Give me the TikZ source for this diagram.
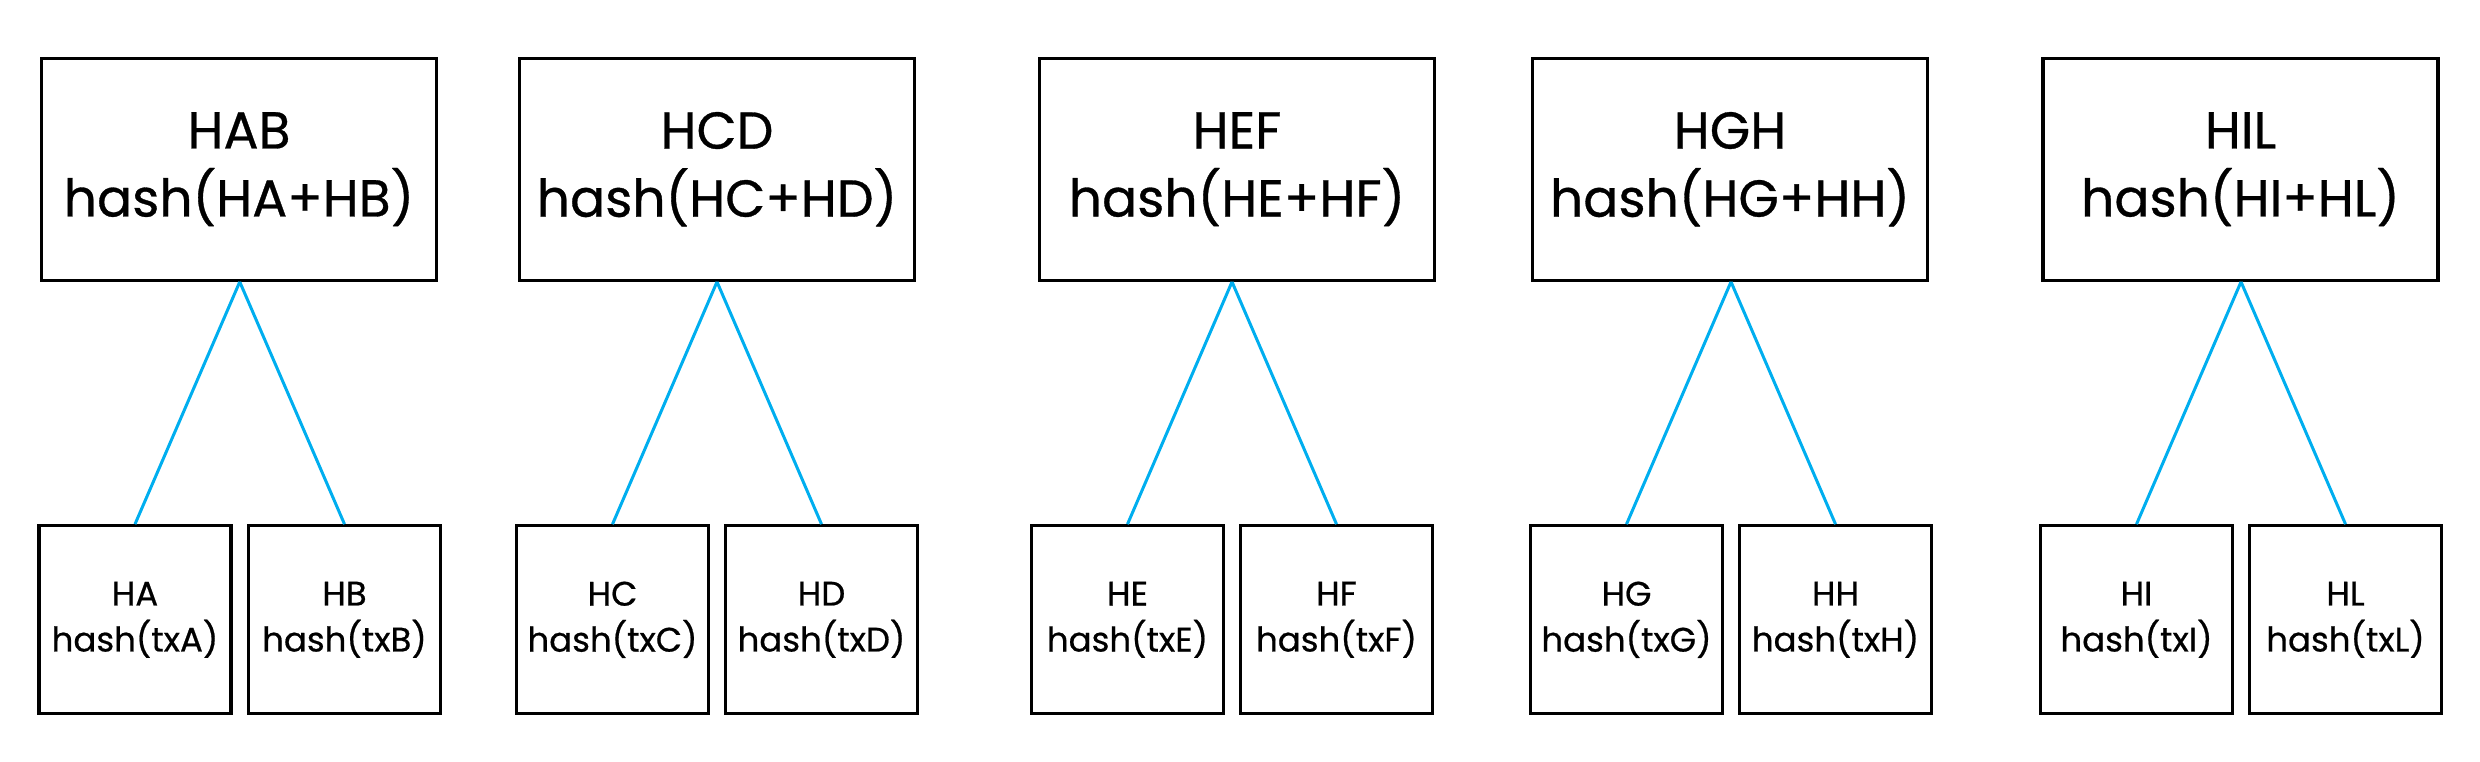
\documentclass[tikz,border=0pt]{standalone}
\usepackage{fontspec}
\setmainfont{Poppins}[FakeBold=0.6]
\usetikzlibrary{calc}
\definecolor{linkcyan}{RGB}{0,174,239}
\tikzset{
  topbox/.style={draw=black, line width=3.3pt, minimum width=395pt, minimum height=222pt, inner sep=0pt, align=center, font=\fontsize{52}{68}\selectfont},
  leafbox/.style={draw=black, line width=3.3pt, minimum width=192pt, minimum height=188pt, inner sep=0pt, align=center, font=\fontsize{34}{46}\selectfont},
  link/.style={draw=linkcyan, line width=3pt}
}
\begin{document}
\begin{tikzpicture}[x=1pt,y=-1pt]
\useasboundingbox (0,0) rectangle (2480,761);
% group 1
\node[topbox] (t1) at (239,169.2) {HAB\\hash(HA+HB)};
\node[leafbox] (l1) at (135,619.8) {HA\\hash(txA)};
\node[leafbox] (r1) at (344.5,619.8) {HB\\hash(txB)};
% group 2
\node[topbox] (t2) at (717,169.2) {HCD\\hash(HC+HD)};
\node[leafbox] (l2) at (612.5,619.8) {HC\\hash(txC)};
\node[leafbox] (r2) at (821.5,619.8) {HD\\hash(txD)};
% group 3
\node[topbox] (t3) at (1237,169.2) {HEF\\hash(HE+HF)};
\node[leafbox] (l3) at (1127.5,619.8) {HE\\hash(txE)};
\node[leafbox] (r3) at (1336.5,619.8) {HF\\hash(txF)};
% group 4
\node[topbox] (t4) at (1730,169.2) {HGH\\hash(HG+HH)};
\node[leafbox] (l4) at (1626.5,619.8) {HG\\hash(txG)};
\node[leafbox] (r4) at (1835.5,619.8) {HH\\hash(txH)};
% group 5
\node[topbox] (t5) at (2240.5,169.2) {HIL\\hash(HI+HL)};
\node[leafbox] (l5) at (2136.5,619.8) {HI\\hash(txI)};
\node[leafbox] (r5) at (2345.5,619.8) {HL\\hash(txL)};
% connectors
\foreach \i in {1,...,5}{
  \coordinate (m\i) at ($(l\i.north)!0.5!(r\i.north)$);
  \coordinate (a\i) at (m\i |- t\i.south);
  \draw[link] (a\i) -- (l\i.north);
  \draw[link] (a\i) -- (r\i.north);
}
\end{tikzpicture}
\end{document}
